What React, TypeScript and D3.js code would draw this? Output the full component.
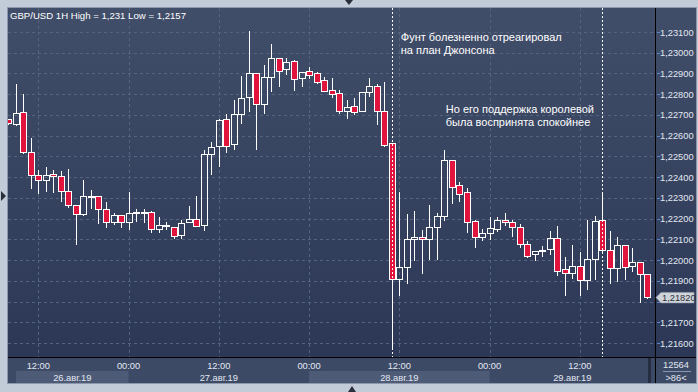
import React from 'react';
import * as d3 from 'd3';

// ---- data (GBP/USD, 1H, from 26 Aug 2019 08:00) ----
const opens = [1.22679,1.22656,1.22713,1.22523,1.22409,1.22385,1.22414,1.22404,1.22332,1.22264,1.22221,1.22304,1.22308,1.22248,1.22185,1.22216,1.22182,1.2223,1.22232,1.2223,1.22148,1.22166,1.22161,1.22119,1.22182,1.22197,1.22168,1.22512,1.22552,1.22679,1.22558,1.22703,1.22785,1.22901,1.22751,1.22882,1.22973,1.2292,1.22959,1.22877,1.22912,1.22901,1.22867,1.22819,1.22804,1.2272,1.22742,1.22718,1.22812,1.22838,1.22718,1.22563,1.21907,1.21968,1.221,1.2211,1.221,1.22161,1.22213,1.22481,1.22361,1.22327,1.22187,1.22113,1.22129,1.22151,1.22193,1.22182,1.22158,1.22076,1.22028,1.22042,1.22052,1.22105,1.21955,1.21936,1.21971,1.21905,1.22007,1.22192,1.22047,1.2196,1.22071,1.2197,1.21989,1.21931];
const highs = [1.22682,1.22849,1.22801,1.22587,1.22434,1.2245,1.22434,1.2243,1.22439,1.22266,1.22386,1.22338,1.22309,1.22279,1.22226,1.22217,1.2233,1.22246,1.22246,1.22237,1.22206,1.22182,1.22161,1.22193,1.22261,1.22309,1.22531,1.22569,1.22682,1.22703,1.22772,1.22888,1.23105,1.22901,1.22939,1.23042,1.22973,1.22973,1.22965,1.22906,1.2293,1.22909,1.22882,1.22877,1.2282,1.22772,1.2278,1.22809,1.22877,1.22849,1.22857,1.22563,1.22327,1.22222,1.22237,1.22145,1.22266,1.22226,1.22531,1.22481,1.22378,1.22346,1.22193,1.2215,1.22206,1.22206,1.22226,1.22193,1.22174,1.22092,1.22042,1.22068,1.2214,1.22164,1.22013,1.22073,1.2204,1.22193,1.22213,1.22327,1.2214,1.2211,1.22071,1.22057,1.21989,1.21931];
const lows = [1.22656,1.22651,1.22515,1.22346,1.22325,1.22335,1.2233,1.22286,1.22254,1.22079,1.22217,1.22253,1.2218,1.22158,1.22174,1.22158,1.22148,1.22188,1.22185,1.22134,1.22134,1.22148,1.22108,1.22105,1.22182,1.22164,1.22145,1.22414,1.22455,1.22523,1.22534,1.22663,1.2272,1.22534,1.22711,1.22817,1.22841,1.22897,1.2282,1.22841,1.22877,1.22855,1.22814,1.22788,1.22711,1.22687,1.22705,1.22718,1.22791,1.22658,1.22552,1.2157,1.21831,1.21888,1.22,1.21939,1.22005,1.22005,1.22193,1.22277,1.22286,1.22137,1.22064,1.22097,1.22102,1.2214,1.22169,1.22116,1.22064,1.22016,1.22,1.22021,1.22029,1.21928,1.21831,1.21912,1.21831,1.2186,1.21909,1.22039,1.21891,1.219,1.21909,1.21949,1.21799,1.21815];
const closes = [1.2266,1.22708,1.22523,1.22409,1.22385,1.22409,1.22405,1.22332,1.22264,1.22221,1.22309,1.22311,1.22245,1.22184,1.22216,1.22182,1.22226,1.22233,1.22233,1.22148,1.22168,1.22168,1.22116,1.22177,1.22197,1.22164,1.2251,1.22547,1.22676,1.22552,1.22703,1.2278,1.22901,1.22751,1.22882,1.22973,1.22913,1.22954,1.22872,1.22906,1.22891,1.2286,1.22814,1.228,1.2272,1.22737,1.22713,1.22809,1.22838,1.22718,1.22556,1.21907,1.21968,1.22102,1.2211,1.221,1.22158,1.22213,1.22481,1.22354,1.2232,1.22185,1.2211,1.22129,1.22153,1.22193,1.22182,1.22158,1.22076,1.22021,1.22042,1.22047,1.22105,1.21949,1.21936,1.21971,1.21905,1.22004,1.22188,1.22047,1.2196,1.22071,1.21965,1.21989,1.21931,1.2182];

const firstBar = new Date(2019, 7, 26, 8, 0);
const dayLabels = ['26.авг.19', '27.авг.19', '28.авг.19', '29.авг.19'];
const titleText = 'GBP/USD 1H High = 1,231 Low = 1,2157';
const lastPrice = 1.2182;
const barsInfo = ['12564', '>86<'];
const eventBars = [51, 79];
const note1 = ['Фунт болезненно отреагировал', 'на план Джонсона'];
const note2 = ['Но его поддержка королевой', 'была воспринята спокойнее'];

const W = 698, H = 392;
const L = 8, T = 8, R = 655, B = 357, AX = 383, RE = 696;
const FONT = '"Liberation Sans", Arial, sans-serif';
const RED = '#e0143c';

export default function App() {
  const n = opens.length;
  const times = d3.range(n).map((i) => d3.timeHour.offset(firstBar, i));
  const x = d3.scaleLinear().domain([-0.03, 86.0]).range([L, R]);
  const y = d3.scaleLinear().domain([1.216, 1.231]).range([343, 32]);
  const priceTicks = d3.range(1216, 1232).map((v) => v / 1000);
  const fmt = (v: number) => d3.format('.5f')(v).replace('.', ',');
  const hm = d3.timeFormat('%H:%M');
  const timeTicks = d3.range(n).filter((i) => times[i].getHours() % 12 === 0);
  const midnights = d3.range(n).filter((i) => times[i].getHours() === 0);
  const bounds = [16, ...midnights.map((i) => x(i)), 655];
  const lastY = y(lastPrice);

  return (
    <svg width={W} height={H} style={{ position: 'fixed', left: 0, top: 0, display: 'block' }} fontFamily={FONT}>
      <defs>
        <linearGradient id="bg" x1="0" y1={T} x2="0" y2={AX} gradientUnits="userSpaceOnUse">
          <stop offset="0" stopColor="#414e69" />
          <stop offset="1" stopColor="#2a3654" />
        </linearGradient>
        <clipPath id="plot">
          <rect x={L} y={T} width={R - L} height={B - T} />
        </clipPath>
      </defs>
      <rect x={0} y={0} width={W} height={H} fill="#c2ccd9" />
      <rect x={L - 0.5} y={T - 0.5} width={RE - L + 1} height={AX - T + 1} fill="url(#bg)" stroke="#8d99ab" />

      {/* grid */}
      <g stroke="#56637e" strokeDasharray="3,3" strokeWidth={1} shapeRendering="crispEdges">
        {priceTicks.map((p) => (
          <line key={p} x1={L} x2={R} y1={Math.round(y(p)) + 0.5} y2={Math.round(y(p)) + 0.5} />
        ))}
        {timeTicks.map((i) => (
          <line key={i} x1={Math.round(x(i)) + 0.5} x2={Math.round(x(i)) + 0.5} y1={T} y2={B} />
        ))}
      </g>

      {/* candles */}
      <g clipPath="url(#plot)" shapeRendering="crispEdges">
        {d3.range(n).map((i) => {
          const cx = Math.round(x(i));
          const o = opens[i], c = closes[i];
          const up = c >= o;
          const top = Math.round(y(Math.max(o, c)));
          const bot = Math.max(top + 1, Math.round(y(Math.min(o, c))));
          const hy = Math.round(y(highs[i]));
          const ly = Math.round(y(lows[i]));
          return (
            <g key={i}>
              {hy < top && <line x1={cx + 0.5} x2={cx + 0.5} y1={hy} y2={top} stroke="#fff" />}
              {ly > bot && <line x1={cx + 0.5} x2={cx + 0.5} y1={bot} y2={ly + 1} stroke="#fff" />}
              <rect x={cx - 2.5} y={top + 0.5} width={6} height={bot - top} fill={up ? 'none' : RED} stroke="#fff" strokeWidth={1} />
            </g>
          );
        })}
        {eventBars.map((i) => (
          <line key={i} x1={Math.round(x(i)) + 0.5} x2={Math.round(x(i)) + 0.5} y1={T} y2={B} stroke="#fff" strokeDasharray="2,2" />
        ))}
      </g>

      {/* annotations */}
      <g fill="#ffffff" fontSize={11}>
        {note1.map((t, k) => (
          <text key={t} x={x(eventBars[0]) + 9} y={41 + k * 13}>{t}</text>
        ))}
        {note2.map((t, k) => (
          <text key={t} x={x(eventBars[0]) + 54} y={113 + k * 13}>{t}</text>
        ))}
      </g>

      <text x={10} y={19} fill="#ffffff" fontSize={9.6}>{titleText}</text>

      {/* frame lines */}
      <g shapeRendering="crispEdges">
        <line x1={L} x2={RE} y1={B + 0.5} y2={B + 0.5} stroke="#000" />
        <line x1={R + 0.5} x2={R + 0.5} y1={T} y2={AX} stroke="#000" />
      </g>

      {/* price axis (the label under the last-price box is hidden by it) */}
      <g fontSize={9.3} fill="#e2e8f2">
        {priceTicks.map((p) => (
          <g key={p}>
            <line x1={657} x2={660} y1={Math.round(y(p)) + 0.5} y2={Math.round(y(p)) + 0.5} stroke="#5f86cc" />
            {Math.abs(y(p) - lastY) > 11 && <text x={660} y={y(p) + 3.5}>{fmt(p)}</text>}
          </g>
        ))}
      </g>
      <g>
        <path d={`M656,${lastY} L661,${lastY - 5} L694,${lastY - 5} L694,${lastY + 5.5} L661,${lastY + 5.5} Z`} fill="#cfd3da" stroke="#9aa2ae" strokeWidth={0.6} />
        <text x={662} y={lastY + 3.5} fontSize={9.3} fill="#2b2f38">{fmt(lastPrice)}</text>
      </g>

      {/* time axis */}
      <rect x={L} y={B + 1} width={R - L} height={AX - B - 1} fill="#3d4a66" />
      {dayLabels.map((d, k) => (
        <g key={d}>
          {k % 2 === 0 && (
            <rect x={bounds[k]} y={371} width={bounds[k + 1] - bounds[k]} height={AX - 371} fill="#4e5b77" />
          )}
          <text x={(bounds[k] + bounds[k + 1]) / 2} y={380.5} textAnchor="middle" fontSize={9.3} fill="#e2e8f2">{d}</text>
        </g>
      ))}
      <g fontSize={9.3} fill="#e2e8f2" textAnchor="middle">
        {timeTicks.map((i) => (
          <text key={i} x={x(i)} y={368.5}>{hm(times[i])}</text>
        ))}
      </g>
      <rect x={648} y={B + 1} width={3} height={AX - B - 1} fill="#262f42" />
      <rect x={R + 1} y={B + 1} width={RE - R - 1} height={AX - B - 1} fill="#3d4a66" />
      <text x={676} y={368} textAnchor="middle" fontSize={9.3} fill="#e2e8f2">{barsInfo[0]}</text>
      <line x1={663} x2={691} y1={371.5} y2={371.5} stroke="#8a97b0" />
      <text x={676} y={380.5} textAnchor="middle" fontSize={9.3} fill="#e2e8f2">{barsInfo[1]}</text>

      {/* scroll markers */}
      <path d="M345,0 L353,0 L349,5 Z" fill="#2a2f3a" />
      <path d="M348,392 L356,392 L352,386 Z" fill="#2a2f3a" />
      <path d="M1,191 L6,196 L1,201 Z" fill="#2a2f3a" />
    </svg>
  );
}
